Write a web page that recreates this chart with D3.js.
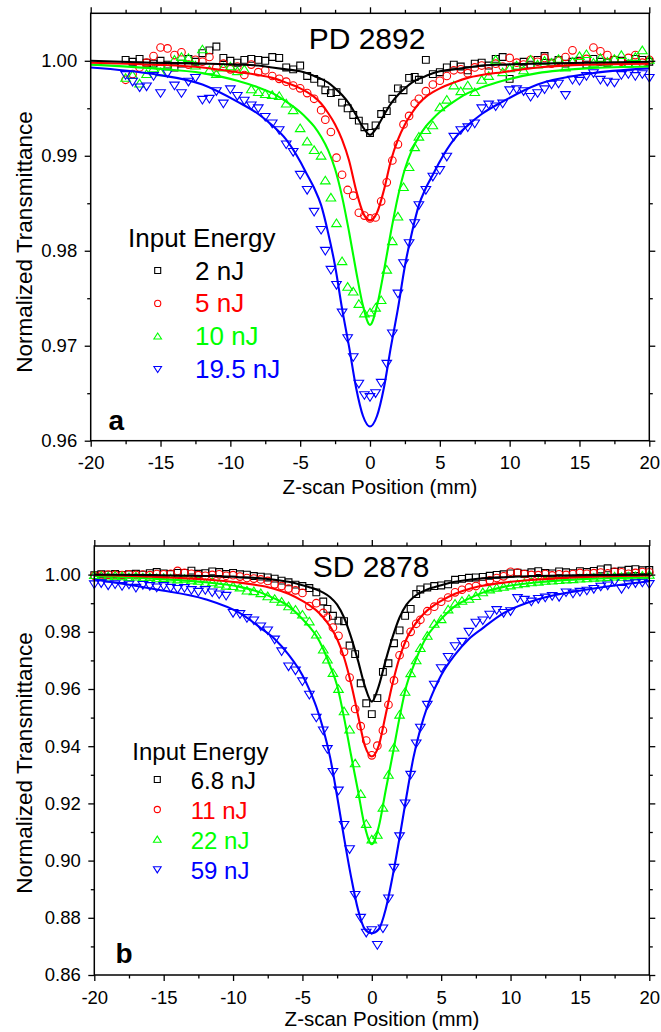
<!DOCTYPE html>
<html><head><meta charset="utf-8">
<script src="https://cdn.jsdelivr.net/npm/d3@7"></script>
<style>
body{margin:0;background:#fff}
svg{display:block}
text{font-family:"Liberation Sans",Arial,Helvetica,sans-serif}
</style>
</head><body>
<svg id="c" width="661" height="1032"></svg>
<script>
// ---------------- DATA ----------------
const xTicks = [-20,-15,-10,-5,0,5,10,15,20];
const xMinorTicks = [-17.5,-12.5,-7.5,-2.5,2.5,7.5,12.5,17.5];
const yTicksA = [0.96,0.97,0.98,0.99,1.00];
const yMinorA = [0.965,0.975,0.985,0.995];
const yTicksB = [0.86,0.88,0.90,0.92,0.94,0.96,0.98,1.00];
const yMinorB = [0.87,0.89,0.91,0.93,0.95,0.97,0.99];

const seriesA = ["2 nJ","5 nJ","10 nJ","19.5 nJ"];
const seriesB = ["6.8 nJ","11 nJ","22 nJ","59 nJ"];

// Panel a measured points (z in mm, normalized transmittance)
const zA = [-17.5,-17,-16.5,-16,-15.5,-15,-14.5,-14,-13.5,-13,-12.5,-12,-11.5,-11,-10.5,-10,-9.5,-9,-8.5,-8,-7.5,-7,-6.5,-6,-5.5,-5,-4.5,-4,-3.5,
 -3.2,-2.8,-2.4,-2,-1.6,-1.2,-0.8,-0.4,0,0.4,0.8,1.2,1.6,2,2.4,2.8,3.2,
 3.5,4,4.5,5,5.5,6,6.5,7,7.5,8,8.5,9,9.5,10,10.5,11,11.5,12,12.5,13,13.5,14,14.5,15,15.5,16,16.5,17,17.5,18,18.5,19,19.5,20];
const tA_2 = [1.0001,.9999,1.0002,.9998,.9997,1.0000,.9996,.9993,.9997,1.0002,.9999,1.0008,1.0011,1.0015,1.0003,1.0000,.9998,1.0001,1.0002,1.0001,1.0000,1.0004,1.0003,.9993,.9991,.9995,.9984,.9981,.9977,
 .9969,.9966,.9967,.9956,.9950,.9943,.9937,.9930,.9924,.9932,.9944,.9947,.9960,.9971,.9969,.9982,.9983,
 .9980,1.0001,.9986,.9988,.9993,.9996,.9994,.9990,.9997,.9998,.9995,1.0002,1.0004,.9981,.9994,.9999,.9996,1.0001,1.0005,.9998,1.0001,.9997,.9999,1.0000,.9996,1.0002,.9999,.9998,1.0001,1.0000,.9997,1.0002,1.0001,.9999];
const tA_5 = [.9980,.9986,.9993,.9998,1.0005,1.0014,1.0013,1.0006,1.0009,.9996,1.0001,.9999,1.0004,.9993,.9997,.9991,.9994,.9985,.9996,.9988,.9990,.9984,.9981,.9978,.9974,.9971,.9966,.9960,.9948,
 .9938,.9925,.9898,.9880,.9864,.9858,.9840,.9837,.9834,.9835,.9852,.9872,.9895,.9912,.9933,.9942,.9955,
 .9960,.9968,.9975,.9979,.9984,.9990,.9991,.9987,.9993,.9995,.9989,.9997,.9994,1.0003,.9998,.9996,1.0001,.9999,1.0003,.9997,1.0000,1.0004,1.0011,.9999,1.0002,1.0014,1.0010,1.0006,1.0001,.9999,1.0003,1.0006,.9998,1.0001];
const tA_10 = [.9982,.9985,.9976,.9986,.9992,.9988,.9994,1.0001,1.0004,1.0003,.9995,1.0012,.9990,.9986,.9993,.9994,.9989,.9991,.9970,.9967,.9965,.9964,.9963,.9955,.9948,.9929,.9915,.9906,.9900,
 .9874,.9856,.9829,.9789,.9762,.9757,.9744,.9734,.9735,.9740,.9748,.9780,.9810,.9836,.9867,.9888,.9909,
 .9920,.9927,.9932,.9951,.9959,.9974,.9968,.9974,.9967,.9980,.9984,1.0001,.9988,.9992,.9995,.9990,1.0001,.9996,1.0000,.9998,1.0002,.9993,.9999,1.0005,1.0007,.9998,1.0003,.9999,1.0002,1.0006,.9997,1.0004,1.0011,1.0001];
const tA_19 = [.9985,.9978,.9972,.9973,.9984,.9966,.9987,.9974,.9966,.9978,.9982,.9959,.9960,.9968,.9955,.9970,.9963,.9958,.9953,.9950,.9941,.9934,.9927,.9912,.9904,.9880,.9864,.9841,.9822,
 .9800,.9780,.9764,.9735,.9708,.9688,.9660,.9648,.9646,.9650,.9661,.9681,.9713,.9755,.9787,.9808,.9829,
 .9848,.9864,.9878,.9885,.9899,.9920,.9927,.9930,.9934,.9950,.9954,.9952,.9955,.9969,.9970,.9968,.9962,.9966,.9970,.9975,.9976,.9964,.9980,.9979,.9984,.9987,.9980,.9978,.9977,.9985,.9986,.9984,.9986,.9982];

// Panel a fitted curves, sampled from the figure
const fitZ = [-20,-15.5,-12,-9.5,-8,-7,-6,-5,-4.5,-4,-3.5,-3,-2.5,-2,-1.5,-1,-0.5,0,0.5,1,1.5,2,2.5,3,3.5,4,4.5,5,6,7,8,9.5,12,15.5,20];
const fitA_2 = [1.0000,.9998,.9997,.9996,.9995,.9993,.9991,.9989,.9987,.9984,.9981,.9977,.9971,.9964,.9955,.9943,.9930,.9922,.9930,.9943,.9955,.9964,.9971,.9977,.9981,.9984,.9987,.9989,.9991,.9993,.9995,.9996,.9997,.9998,.9999];
const fitA_5 = [.9998,.9996,.9993,.9988,.9985,.9982,.9977,.9971,.9967,.9962,.9955,.9945,.9933,.9917,.9895,.9864,.9840,.9832,.9840,.9864,.9895,.9917,.9933,.9945,.9955,.9962,.9967,.9971,.9977,.9982,.9985,.9988,.9993,.9996,.9997];
const fitA_10 = [.9996,.9992,.9987,.9979,.9972,.9966,.9957,.9946,.9939,.9931,.9920,.9906,.9886,.9857,.9820,.9779,.9742,.9722,.9742,.9779,.9820,.9857,.9886,.9906,.9920,.9931,.9939,.9946,.9957,.9966,.9972,.9979,.9987,.9992,.9994];
const fitA_19 = [.9993,.9986,.9975,.9957,.9944,.9932,.9917,.9894,.9880,.9866,.9848,.9819,.9784,.9739,.9699,.9656,.9626,.9615,.9626,.9656,.9699,.9739,.9784,.9819,.9848,.9866,.9880,.9894,.9917,.9932,.9944,.9957,.9975,.9986,.9992];

// Panel b measured points
const zB = [-20,-19.5,-19,-18.5,-18,-17.5,-17,-16.5,-16,-15.5,-15,-14.5,-14,-13.5,-13,-12.5,-12,-11.5,-11,-10.5,-10,-9.5,-9,-8.5,-8,-7.5,-7,-6.5,-6,-5.5,-5,-4.5,-4,-3.5,
 -3.2,-2.8,-2.4,-2,-1.6,-1.2,-0.8,-0.4,0,0.4,0.8,1.2,1.6,2,2.4,2.8,3.2,
 3.5,4,4.5,5,5.5,6,6.5,7,7.5,8,8.5,9,9.5,10,10.5,11,11.5,12,12.5,13,13.5,14,14.5,15,15.5,16,16.5,17,17.5,18,18.5,19,19.5,20];
const tB_68 = [.9998,1.0001,1.0000,1.0002,.9999,1.0001,1.0003,1.0000,1.0005,1.0009,1.0004,1.0002,1.0006,1.0006,1.0014,1.0003,1.0005,1.0011,1.0009,1.0002,1.0006,1.0001,1.0000,.9995,.9993,.9990,.9986,.9979,.9973,.9965,.9960,.9953,.9938,.9906,
 .9880,.9856,.9839,.9837,.9752,.9722,.9620,.9550,.9512,.9568,.9660,.9690,.9760,.9805,.9856,.9880,.9932,
 .9948,.9955,.9960,.9962,.9966,.9982,.9985,.9989,.9990,.9992,.9996,.9999,1.0001,1.0004,1.0007,1.0003,1.0008,1.0012,1.0006,1.0004,1.0011,1.0008,1.0005,1.0012,1.0009,1.0013,1.0018,1.0022,1.0010,1.0014,1.0017,1.0019,1.0015,1.0016];
const tB_11 = [.9996,.9998,1.0000,.9999,.9998,1.0001,.9999,1.0000,.9998,1.0002,1.0001,1.0003,1.0013,1.0006,1.0003,.9998,.9996,.9999,1.0001,.9996,.9998,.9993,.9988,.9986,.9983,.9978,.9966,.9960,.9951,.9945,.9936,.9890,.9900,.9866,
 .9850,.9815,.9786,.9730,.9640,.9530,.9470,.9420,.9368,.9402,.9455,.9545,.9630,.9718,.9756,.9800,.9828,
 .9842,.9872,.9888,.9905,.9920,.9938,.9947,.9955,.9960,.9975,.9980,.9988,.9994,1.0010,1.0007,1.0002,.9999,.9998,1.0002,.9997,1.0001,.9999,1.0002,1.0006,1.0003,1.0005,1.0007,1.0004,1.0010,1.0008,1.0003,1.0006,1.0009,1.0008];
const tB_22 = [.9998,.9995,.9993,.9996,.9994,.9991,.9993,.9990,.9991,.9987,.9988,.9986,.9983,.9985,.9980,.9978,.9971,.9973,.9968,.9961,.9960,.9955,.9944,.9942,.9935,.9924,.9915,.9905,.9889,.9877,.9860,.9836,.9790,.9738,
 .9703,.9656,.9600,.9522,.9458,.9340,.9233,.9128,.9074,.9090,.9185,.9300,.9395,.9510,.9590,.9655,.9700,
 .9743,.9786,.9828,.9844,.9878,.9898,.9908,.9915,.9925,.9938,.9948,.9954,.9957,.9962,.9966,.9970,.9973,.9975,.9978,.9979,.9981,.9983,.9984,.9986,.9987,.9989,.9990,.9991,.9993,.9992,.9993,.9994,.9996,.9999];
const tB_59 = [.9966,.9970,.9962,.9966,.9960,.9965,.9954,.9964,.9960,.9955,.9960,.9954,.9950,.9953,.9946,.9940,.9946,.9938,.9931,.9926,.9866,.9862,.9848,.9840,.9819,.9805,.9773,.9732,.9679,.9665,.9627,.9580,.9500,.9455,
 .9390,.9310,.9245,.9125,.9040,.8880,.8800,.8748,.8757,.8705,.8763,.8868,.8975,.9085,.9200,.9300,.9410,
 .9465,.9545,.9615,.9673,.9712,.9750,.9765,.9800,.9832,.9840,.9860,.9876,.9866,.9872,.9918,.9912,.9906,.9915,.9920,.9925,.9922,.9938,.9934,.9940,.9944,.9950,.9958,.9962,.9976,.9950,.9966,.9970,.9972,.9967];

// Panel b fitted curves
const fitB_68 = [1.0000,.9998,.9995,.9991,.9987,.9982,.9975,.9963,.9956,.9948,.9937,.9921,.9895,.9850,.9782,.9700,.9610,.9556,.9610,.9700,.9782,.9850,.9895,.9921,.9937,.9948,.9956,.9963,.9975,.9982,.9987,.9991,.9995,.9998,1.0000];
const fitB_11 = [.9999,.9992,.9983,.9972,.9961,.9950,.9933,.9908,.9893,.9875,.9850,.9818,.9775,.9710,.9620,.9510,.9402,.9364,.9402,.9510,.9620,.9710,.9775,.9818,.9850,.9875,.9893,.9908,.9933,.9950,.9961,.9972,.9983,.9992,.9997];
const fitB_22 = [.9995,.9985,.9973,.9957,.9937,.9916,.9890,.9845,.9818,.9786,.9740,.9680,.9612,.9500,.9370,.9245,.9118,.9057,.9118,.9245,.9370,.9500,.9612,.9680,.9740,.9786,.9818,.9845,.9890,.9916,.9937,.9957,.9973,.9985,.9990];
const fitB_59 = [.9983,.9948,.9914,.9865,.9813,.9775,.9720,.9648,.9598,.9538,.9460,.9360,.9225,.9080,.8945,.8830,.8760,.8746,.8760,.8830,.8945,.9080,.9225,.9360,.9460,.9538,.9598,.9648,.9720,.9775,.9813,.9865,.9914,.9948,.9977];

// ---------------- DRAWING ----------------
const svg = d3.select("#c");
const colors = ["#000000","#ff0000","#00ff00","#0000ff"];
const shapes = ["square","circle","up","down"];

function symPath(shape, s){
  if(shape==="square") return `M${-s},${-s}H${s}V${s}H${-s}Z`;
  if(shape==="circle") return d3.symbol(d3.symbolCircle, Math.PI*s*s)();
  if(shape==="up") return `M0,${-s*1.05}L${s*1.2},${s*0.85}L${-s*1.2},${s*0.85}Z`;
  return `M0,${s*1.05}L${s*1.2},${-s*0.85}L${-s*1.2},${-s*0.85}Z`;
}
const markSize = {square:3.4, circle:3.8, up:4.0, down:4.0};
const legSize = {square:3.0, circle:3.1, up:3.2, down:3.2};

function drawPanel(p){
  const x = d3.scaleLinear().domain([-20,20]).range([p.left,p.right]);
  const y = d3.scaleLinear().domain(p.yDomain).range([p.bottom,p.top]);
  const g = svg.append("g");

  // data points
  p.series.forEach((s,i)=>{
    const pts = p.z.map((z,k)=>[z,s.t[k]]).filter(d=>d[1]!==undefined);
    g.append("g").selectAll("path").data(pts).join("path")
      .attr("d", symPath(shapes[i], markSize[shapes[i]]))
      .attr("transform", d=>`translate(${x(d[0])},${y(d[1])})`)
      .attr("fill","none").attr("stroke",colors[i]).attr("stroke-width",1.1);
  });
  // fit lines
  const line = d3.line().x(d=>x(d[0])).y(d=>y(d[1])).curve(d3.curveMonotoneX);
  [3,2,1,0].forEach(i=>{
    const s = p.series[i];
    const pts = fitZ.map((z,k)=>[z,s.fit[k]]);
    g.append("path").datum(pts).attr("d",line)
      .attr("fill","none").attr("stroke",colors[i]).attr("stroke-width",2.1);
  });

  // frame
  g.append("rect").attr("x",p.left).attr("y",p.top)
    .attr("width",p.right-p.left).attr("height",p.bottom-p.top)
    .attr("fill","none").attr("stroke","#000").attr("stroke-width",1.5);

  const styleAxis = sel => {
    sel.select(".domain").remove();
    sel.selectAll(".tick line").attr("stroke","#000").attr("stroke-width",1.3);
    sel.selectAll("text").attr("fill","#000").style("font-size","18.5px")
      .style("font-family",'"Liberation Sans",Arial,sans-serif');
  };
  // bottom
  g.append("g").attr("transform",`translate(0,${p.bottom})`)
    .call(d3.axisBottom(x).tickValues(xTicks).tickSize(6).tickSizeOuter(0).tickPadding(9.5).tickFormat(d=>String(d))).call(styleAxis);
  g.append("g").attr("transform",`translate(0,${p.bottom})`)
    .call(d3.axisBottom(x).tickValues(xMinorTicks).tickSize(3.5).tickSizeOuter(0).tickFormat("")).call(styleAxis);
  // top
  g.append("g").attr("transform",`translate(0,${p.top})`)
    .call(d3.axisTop(x).tickValues(xTicks).tickSize(6).tickSizeOuter(0).tickFormat("")).call(styleAxis);
  g.append("g").attr("transform",`translate(0,${p.top})`)
    .call(d3.axisTop(x).tickValues(xMinorTicks).tickSize(3.5).tickSizeOuter(0).tickFormat("")).call(styleAxis);
  // left
  g.append("g").attr("transform",`translate(${p.left},0)`)
    .call(d3.axisLeft(y).tickValues(p.yTicks).tickSize(6).tickSizeOuter(0).tickPadding(7.5).tickFormat(d3.format(".2f"))).call(styleAxis);
  g.append("g").attr("transform",`translate(${p.left},0)`)
    .call(d3.axisLeft(y).tickValues(p.yMinor).tickSize(3.5).tickSizeOuter(0).tickFormat("")).call(styleAxis);
  // right
  g.append("g").attr("transform",`translate(${p.right},0)`)
    .call(d3.axisRight(y).tickValues(p.yTicks).tickSize(6).tickSizeOuter(0).tickFormat("")).call(styleAxis);
  g.append("g").attr("transform",`translate(${p.right},0)`)
    .call(d3.axisRight(y).tickValues(p.yMinor).tickSize(3.5).tickSizeOuter(0).tickFormat("")).call(styleAxis);

  // axis titles
  g.append("text").attr("x",p.xTitleX).attr("y",p.xTitleY).attr("text-anchor","middle")
    .style("font-size","20.5px").text("Z-scan Position (mm)");
  g.append("text").attr("transform",`translate(32,${p.yTitleY}) rotate(-90)`).attr("text-anchor","middle")
    .style("font-size","22.5px").text("Normalized Transmittance");

  // panel title
  g.append("text").attr("x",p.titleX).attr("y",p.titleY).attr("text-anchor","middle")
    .style("font-size","30px").text(p.title);
  // panel letter
  g.append("text").attr("x",p.letterX).attr("y",p.letterY)
    .style("font-size","28px").style("font-weight","bold").text(p.letter);

  // legend
  g.append("text").attr("x",p.leg.headX).attr("y",p.leg.headY)
    .style("font-size",p.leg.fs+"px").text("Input Energy");
  p.series.forEach((s,i)=>{
    const cy = p.leg.firstY + i*p.leg.step;
    g.append("path").attr("d",symPath(shapes[i],legSize[shapes[i]]))
      .attr("transform",`translate(${p.leg.symX},${cy-9})`)
      .attr("fill","none").attr("stroke",colors[i]).attr("stroke-width",1.1);
    g.append("text").attr("x",p.leg.textX).attr("y",cy)
      .attr("fill",colors[i]).style("font-size",p.leg.fs+"px").text(s.name);
  });
}

drawPanel({
  left:90.7, right:649.3, top:13.3, bottom:440.7,
  yDomain:[0.96,1.005], yTicks:yTicksA, yMinor:yMinorA,
  z:zA,
  series:[
    {name:seriesA[0], t:tA_2, fit:fitA_2},
    {name:seriesA[1], t:tA_5, fit:fitA_5},
    {name:seriesA[2], t:tA_10, fit:fitA_10},
    {name:seriesA[3], t:tA_19, fit:fitA_19}
  ],
  title:"PD 2892", titleX:367, titleY:49,
  letter:"a", letterX:108.5, letterY:430,
  xTitleX:380, xTitleY:494, yTitleY:242,
  leg:{headX:128, headY:246.5, fs:26, symX:157.7, textX:195, firstY:279.5, step:32.9}
});

drawPanel({
  left:94.3, right:649.3, top:546, bottom:975,
  yDomain:[0.86,1.01], yTicks:yTicksB, yMinor:yMinorB,
  z:zB,
  series:[
    {name:seriesB[0], t:tB_68, fit:fitB_68},
    {name:seriesB[1], t:tB_11, fit:fitB_11},
    {name:seriesB[2], t:tB_22, fit:fitB_22},
    {name:seriesB[3], t:tB_59, fit:fitB_59}
  ],
  title:"SD 2878", titleX:371, titleY:577,
  letter:"b", letterX:115.5, letterY:963,
  xTitleX:382, xTitleY:1026, yTitleY:763,
  leg:{headX:132.3, headY:760, fs:24, symX:157.3, textX:190.7, firstY:788.5, step:30}
});
</script>
</body></html>
